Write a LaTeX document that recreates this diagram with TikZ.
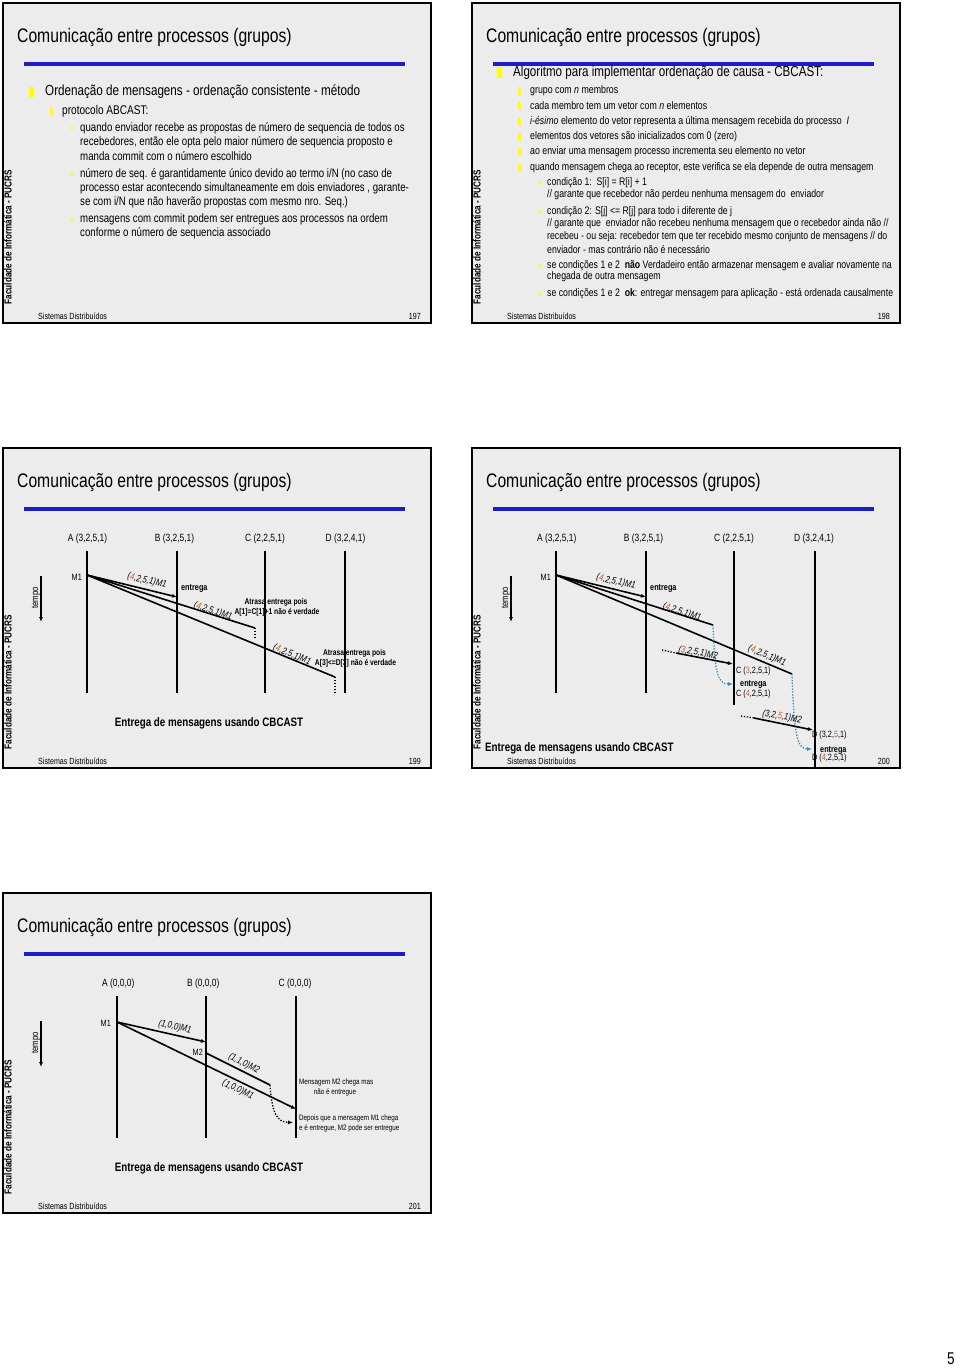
\documentclass[tikz,border=0pt]{standalone}
\usepackage{fontspec}
\setmainfont{Liberation Sans}[FakeStretch=0.8]
\usetikzlibrary{arrows.meta}
\definecolor{slidebg}{RGB}{236,236,236}
\definecolor{rulebl}{RGB}{28,28,200}
\definecolor{bulA}{RGB}{255,255,0}
\definecolor{bulC}{RGB}{245,240,140}
\definecolor{numred}{RGB}{200,90,50}
\definecolor{dotblue}{RGB}{50,140,190}
\newcommand\fsz[1]{\fontsize{#1}{#1}\selectfont}
\newcommand\rd[1]{\textcolor{numred}{#1}}
\newcommand\slideframe[4]{%
  \fill[slidebg] (#1,#2) rectangle ++(428,320);
  \draw[framel] (#1,#2) rectangle ++(428,320);
  \node[ttl] (#4title) at (#1+14,#2+34) {Comunicação entre processos (grupos)};
  \draw[bline] (#1+21,#2+61) -- (#1+402,#2+61);
  \node[sidetxt] (#4side) at (#1+5,#2+234) {Faculdade de Informática - PUCRS};
  \node[foottxt] (#4foot) at (#1+35,#2+313) {Sistemas Distribuídos};
  \node[pnum] (#4num) at (#1+418,#2+313) {#3};
}
\begin{document}
\begin{tikzpicture}[x=1pt,y=-1pt,
  framel/.style={line width=1.6pt, draw=black},
  ttl/.style={inner sep=0, anchor=west, font=\fsz{19.6}},
  bline/.style={draw=rulebl, line width=3.2pt},
  sidetxt/.style={inner sep=0, rotate=90, font=\fsz{10.2}\bfseries},
  foottxt/.style={inner sep=0, anchor=west, font=\fsz{8.9}},
  pnum/.style={inner sep=0, anchor=east, font=\fsz{8.9}},
  la/.style={inner sep=0, anchor=west, font=\fsz{14.6}},
  lb/.style={inner sep=0, anchor=west, font=\fsz{12.6}},
  lc/.style={inner sep=0, anchor=west, font=\fsz{12.1}},
  ma/.style={inner sep=0, anchor=west, font=\fsz{14.5}},
  mb/.style={inner sep=0, anchor=west, font=\fsz{11}},
  mc/.style={inner sep=0, anchor=west, font=\fsz{10.9}},
  plab/.style={inner sep=0, font=\fsz{10.5}},
  proc/.style={line width=1.8pt},
  msg/.style={line width=1.6pt, -{Latex[length=5pt,width=4pt]}},
  msgn/.style={line width=1.6pt},
  dotl/.style={line width=1.3pt, dash pattern=on 1.3pt off 1.6pt},
  dotlarr/.style={dotl, -{Latex[length=5pt,width=4pt]}},
  dotb/.style={draw=dotblue, line width=1.3pt, dash pattern=on 1.3pt off 1.6pt, -{Latex[length=5pt,width=4pt]}},
  mlab/.style={inner sep=0, font=\fsz{9.7}\itshape},
  smallb/.style={inner sep=0, font=\fsz{8.4}\bfseries},
  smallr/.style={inner sep=0, font=\fsz{7.85}},
  ent/.style={inner sep=0, anchor=west, font=\fsz{9.1}\bfseries},
  vec/.style={inner sep=0, anchor=west, font=\fsz{9.1}},
  captxt/.style={inner sep=0, font=\fsz{12.25}\bfseries},
  tmp/.style={inner sep=0, rotate=90, font=\fsz{9.7}},
  tarr/.style={line width=1.6pt, -{Latex[length=5pt,width=4pt]}},
  mk/.style={inner sep=0, anchor=east, font=\fsz{9.1}}
]
\useasboundingbox (0,0) rectangle (960,1369);
\fill[white] (0,0) rectangle (960,1369);

\slideframe{3}{3}{197}{sa}
\slideframe{472}{3}{198}{sb}
\slideframe{3}{448}{199}{sc}
\slideframe{472}{448}{200}{sd}
\slideframe{3}{893}{201}{se}

% ---------------- slide 197
\fill[bulA] (29,87) rectangle (34,97);
\node[la] (a1) at (45,92) {Ordenação de mensagens - ordenação consistente - método};
\fill[bulA] (50,107) rectangle (53,116);
\node[lb] (a2) at (62,111) {protocolo ABCAST:};
\fill[bulC] (70,126) rectangle (74,130);
\node[lc] (a3) at (80,128) {quando enviador recebe as propostas de número de sequencia de todos os};
\node[lc] (a4) at (80,142) {recebedores, então ele opta pelo maior número de sequencia proposto e};
\node[lc] (a5) at (80,156) {manda commit com o número escolhido};
\fill[bulC] (70,172) rectangle (74,176);
\node[lc] (a6) at (80,174) {número de seq. é garantidamente único devido ao termo i/N (no caso de};
\node[lc] (a7) at (80,188) {processo estar acontecendo simultaneamente em dois enviadores , garante-};
\node[lc] (a8) at (80,202) {se com i/N que não haverão propostas com mesmo nro. Seq.)};
\fill[bulC] (70,217) rectangle (74,221);
\node[lc] (a9) at (80,219) {mensagens com commit podem ser entregues aos processos na ordem};
\node[lc] (a10) at (80,233) {conforme o número de sequencia associado};

% ---------------- slide 198
\fill[bulA] (497,67) rectangle (502,78);
\node[ma] (b1) at (513,73) {Algoritmo para implementar ordenação de causa - CBCAST:};
\foreach \yy in {91,106,122,137,152,168}{\fill[bulA] (518,\yy-4) rectangle (521,\yy+4);}
\node[mb] (b2) at (530,91) {grupo com \textit{n} membros};
\node[mb] (b3) at (530,106) {cada membro tem um vetor com \textit{n} elementos};
\node[mb] (b4) at (530,122) {\textit{i-ésimo} elemento do vetor representa a última mensagem recebida do processo\ \ \textit{I}};
\node[mb] (b5) at (530,137) {elementos dos vetores são inicializados com 0 (zero)};
\node[mb] (b6) at (530,152) {ao enviar uma mensagem processo incrementa seu elemento no vetor};
\node[mb] (b7) at (530,168) {quando mensagem chega ao receptor, este verifica se ela depende de outra mensagem};
\foreach \yy in {183,212,266,294}{\fill[bulC] (538,\yy-2) rectangle (542,\yy+2);}
\node[mc] (c1) at (547,183) {condição 1:\ \ S[i] = R[i] + 1};
\node[mc] (c2) at (547,195) {// garante que recebedor não perdeu nenhuma mensagem do\ \ enviador};
\node[mc] (c3) at (547,212) {condição 2: S[j] <= R[j] para todo i diferente de j};
\node[mc] (c4) at (547,224) {// garante que\ \ enviador não recebeu nenhuma mensagem que o recebedor ainda não //};
\node[mc] (c5) at (547,237) {recebeu - ou seja: recebedor tem que ter recebido mesmo conjunto de mensagens // do};
\node[mc] (c6) at (547,250) {enviador - mas contrário não é necessário};
\node[mc] (c7) at (547,266) {se condições 1 e 2\ \ \textbf{não} Verdadeiro então armazenar mensagem e avaliar novamente na};
\node[mc] (c8) at (547,277) {chegada de outra mensagem};
\node[mc] (c9) at (547,294) {se condições 1 e 2\ \ \textbf{ok}: entregar mensagem para aplicação - está ordenada causalmente};

% ---------------- slide 199
\node[plab] (pA3) at (87.5,539) {A (3,2,5,1)};
\node[plab] (pB3) at (174.5,539) {B (3,2,5,1)};
\node[plab] (pC3) at (265,539) {C (2,2,5,1)};
\node[plab] (pD3) at (345.5,539) {D (3,2,4,1)};
\node[tmp] (tm3) at (36,598) {tempo};
\coordinate (t3a) at (41,576); \coordinate (t3b) at (41,622);
\draw[tarr] (t3a) -- (t3b);
\node[smallb] (at3a) at (276,602) {Atrasa entrega pois};
\node[smallb] (at3b) at (277,612) {A[1]=C[1]+1 não é verdade};
\node[smallb] (at3c) at (354.5,653) {Atrasa entrega pois};
\node[smallb] (at3d) at (355.5,663) {A[3]<=D[3] não é verdade};
\coordinate (A3t) at (87,551); \coordinate (A3b) at (87,693);
\coordinate (B3t) at (177,551); \coordinate (B3b) at (177,693);
\coordinate (C3t) at (265,551); \coordinate (C3b) at (265,693);
\coordinate (D3t) at (345,551); \coordinate (D3b) at (345,693);
\draw[proc] (A3t) -- (A3b);
\draw[proc] (B3t) -- (B3b);
\draw[proc] (C3t) -- (C3b);
\draw[proc] (D3t) -- (D3b);
\node[mk] (m13) at (82,577) {M1};
\coordinate (s3) at (87,575);
\coordinate (e3b) at (177,597);
\coordinate (e3c) at (255,628); \coordinate (e3cd) at (255,638);
\coordinate (e3d) at (335,677); \coordinate (e3dd) at (335,693);
\draw[msg] (s3) -- (e3b);
\draw[msgn] (s3) -- (e3c);
\draw[dotl] (e3c) -- (e3cd);
\draw[msgn] (s3) -- (e3d);
\draw[dotl] (e3d) -- (e3dd);
\node[mlab, rotate=-13] (l31) at (147,581) {(\rd{4},2,5,1)M1};
\node[ent] (en3) at (181,588) {entrega};
\node[mlab, rotate=-18] (l32) at (213,611) {(\rd{4},2,5,1)M1};
\node[mlab, rotate=-22] (l33) at (292,655) {(\rd{4},2,5,1)M1};
\node[captxt] (cap3) at (209,723) {Entrega de mensagens usando CBCAST};

% ---------------- slide 200
\node[plab] (pA4) at (556.7,539) {A (3,2,5,1)};
\node[plab] (pB4) at (643.5,539) {B (3,2,5,1)};
\node[plab] (pC4) at (734,539) {C (2,2,5,1)};
\node[plab] (pD4) at (814,539) {D (3,2,4,1)};
\node[tmp] (tm4) at (506,598) {tempo};
\coordinate (t4a) at (511,576); \coordinate (t4b) at (511,622);
\draw[tarr] (t4a) -- (t4b);
\node[vec] (cv1) at (736,671) {C (\rd{3},2,5,1)};
\node[ent] (en4b) at (740,684) {entrega};
\node[vec] (cv2) at (736,694) {C (\rd{4},2,5,1)};
\node[vec] (dv1) at (812,735) {D (3,2,\rd{5},1)};
\node[ent] (en4c) at (820,750) {entrega};
\node[vec] (dv2) at (812,758) {D (\rd{4},2,5,1)};
\coordinate (A4t) at (556,551); \coordinate (A4b) at (556,693);
\coordinate (B4t) at (646,551); \coordinate (B4b) at (646,693);
\coordinate (C4t) at (734,551); \coordinate (C4b) at (734,705);
\coordinate (D4t) at (815,551); \coordinate (D4b) at (815,767);
\draw[proc] (A4t) -- (A4b);
\draw[proc] (B4t) -- (B4b);
\draw[proc] (C4t) -- (C4b);
\draw[proc] (D4t) -- (D4b);
\node[mk] (m14) at (551,577) {M1};
\coordinate (s4) at (556,575);
\coordinate (e4b) at (646,597);
\coordinate (e4c) at (713,625);
\coordinate (e4d) at (792,674);
\coordinate (r4c) at (733,684);
\coordinate (r4d) at (812,749);
\draw[msg] (s4) -- (e4b);
\draw[msgn] (s4) -- (e4c);
\draw[msgn] (s4) -- (e4d);
\draw[dotb] (e4c) .. controls (715,672) and (717,684) .. (r4c);
\draw[dotb] (e4d) .. controls (794,735) and (797,749) .. (r4d);
\coordinate (m2c0) at (662,650); \coordinate (m2c1) at (676,653); \coordinate (m2c2) at (733,664);
\draw[dotl] (m2c0) -- (m2c1);
\draw[msg] (m2c1) -- (m2c2);
\coordinate (m2d0) at (741,716); \coordinate (m2d1) at (754,718); \coordinate (m2d2) at (813,730);
\draw[dotl] (m2d0) -- (m2d1);
\draw[msg] (m2d1) -- (m2d2);
\node[mlab, rotate=-13] (l41) at (616,582) {(\rd{4},2,5,1)M1};
\node[ent] (en4) at (650,588) {entrega};
\node[mlab, rotate=-18] (l42) at (682,612) {(\rd{4},2,5,1)M1};
\node[mlab, rotate=-22] (l43) at (767,656) {(\rd{4},2,5,1)M1};
\node[mlab, rotate=-10] (l44) at (698,653) {(\rd{3},2,5,1)M2};
\node[mlab, rotate=-10] (l45) at (782,717) {(3,2,\rd{5},1)M2};
\node[captxt, anchor=west] (cap4) at (485,748) {Entrega de mensagens usando CBCAST};

% ---------------- slide 201
\node[plab] (pA5) at (118.3,984) {A (0,0,0)};
\node[plab] (pB5) at (203.3,984) {B (0,0,0)};
\node[plab] (pC5) at (295,984) {C (0,0,0)};
\node[tmp] (tm5) at (36,1043) {tempo};
\coordinate (t5a) at (41,1021); \coordinate (t5b) at (41,1067);
\draw[tarr] (t5a) -- (t5b);
\coordinate (A5t) at (117,996); \coordinate (A5b) at (117,1138);
\coordinate (B5t) at (206,996); \coordinate (B5b) at (206,1138);
\coordinate (C5t) at (296,996); \coordinate (C5b) at (296,1138);
\draw[proc] (A5t) -- (A5b);
\draw[proc] (B5t) -- (B5b);
\draw[proc] (C5t) -- (C5b);
\node[mk] (m15) at (111,1023) {M1};
\node[mk] (m25) at (203,1052) {M2};
\coordinate (s5) at (117,1022);
\coordinate (e5b) at (206,1042);
\coordinate (e5c) at (296,1109);
\coordinate (s52) at (206,1053);
\coordinate (e52) at (270,1085);
\coordinate (r52) at (293,1122.5);
\draw[msg] (s5) -- (e5b);
\draw[msg] (s5) -- (e5c);
\draw[msgn] (s52) -- (e52);
\draw[dotlarr] (e52) .. controls (272,1112) and (276,1122) .. (r52);
\node[mlab, rotate=-12] (l51) at (175,1027) {(1,0,0)M1};
\node[mlab, rotate=-26] (l52) at (238,1090) {(1,0,0)M1};
\node[mlab, rotate=-27] (l53) at (244,1064) {(1,1,0)M2};
\node[smallr, anchor=west] (n51) at (299,1082) {Mensagem M2 chega mas};
\node[smallr] (n52) at (335,1092) {não é entregue};
\node[smallr, anchor=west] (n53) at (299,1118) {Depois que a mensagem M1 chega};
\node[smallr, anchor=west] (n54) at (299,1128.5) {e é entregue, M2 pode ser entregue};
\node[captxt] (cap5) at (209,1168) {Entrega de mensagens usando CBCAST};

% page number
\node[inner sep=0, font=\fsz{17}] (pg) at (951,1359) {5};
\end{tikzpicture}
\end{document}
